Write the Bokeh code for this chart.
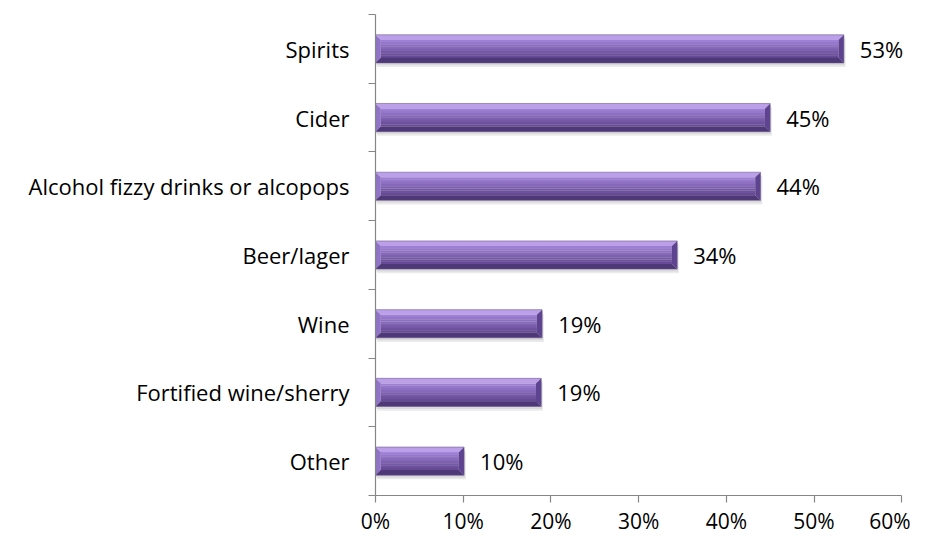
from bokeh.plotting import figure
from bokeh.models import ColumnDataSource, Range1d, FixedTicker, PrintfTickFormatter
from bokeh.core.properties import value
from bokeh.embed import file_html
from bokeh.resources import INLINE

categories = ["Spirits", "Cider", "Alcohol fizzy drinks or alcopops", "Beer/lager",
              "Wine", "Fortified wine/sherry", "Other"]
values = [53.4, 45.0, 43.9, 34.4, 19.0, 18.9, 10.1]
x_ticks = [0, 10, 20, 30, 40, 50, 60]

FONT = "Open Sans"
FS = "22px"
n = len(categories)
ys = [n - i - 0.5 for i in range(n)]
labels = [f"{round(v)}%" for v in values]

h = 0.41
bx = 0.6
by = 0.075

def facets(v, y):
    x0, x1 = 0.0, v
    yt, yb = y + h / 2, y - h / 2
    top = ([x0, x1, x1 - bx, x0 + bx], [yt, yt, yt - by, yt - by])
    left = ([x0, x0 + bx, x0 + bx, x0], [yt, yt - by, yb + by, yb])
    right = ([x1, x1, x1 - bx, x1 - bx], [yt, yb, yb + by, yt - by])
    bottom = ([x0, x0 + bx, x1 - bx, x1], [yb, yb + by, yb + by, yb])
    return top, left, right, bottom

p = figure(frame_width=535, frame_height=481, output_backend="svg", toolbar_location=None,
           x_range=Range1d(0, 61), y_range=Range1d(0, n),
           min_border_left=375, min_border_top=14, min_border_right=0, min_border_bottom=10)
p.outline_line_color = None
p.grid.grid_line_color = None
p.background_fill_color = "white"
p.border_fill_color = "white"

src = ColumnDataSource(dict(y=ys, v=values, lab=labels))

# soft shadow
p.hbar(y=[yy - 0.06 for yy in ys], right=[v + 0.2 for v in values], left=0.2, height=h,
       fill_color="#e2e2e2", fill_alpha=0.7, line_color=None)
p.hbar(y=[yy - 0.035 for yy in ys], right=[v + 0.1 for v in values], left=0.1, height=h,
       fill_color="#cfcfcf", fill_alpha=0.6, line_color=None)

# face with vertical gradient (styling strips)
grad = ["#9d7fd4", "#9677cb", "#8e70c2", "#8669b9", "#7d61af", "#7559a6", "#6d519c", "#664a95"]
face_top = h / 2 - by
face_h = h - 2 * by
k = len(grad)
for j, c in enumerate(grad):
    yc = [yy + face_top - face_h * (j + 0.5) / k for yy in ys]
    p.hbar(y=yc, left=bx, right=[v - bx for v in values], height=face_h / k * 1.08,
           fill_color=c, line_color=None)

tops, lefts, rights, bottoms = [], [], [], []
for v, y in zip(values, ys):
    t, l, r, b = facets(v, y)
    tops.append(t); lefts.append(l); rights.append(r); bottoms.append(b)

p.patches([t[0] for t in tops], [t[1] for t in tops], fill_color="#bb9fe8", line_color=None)
p.patches([t[0] for t in lefts], [t[1] for t in lefts], fill_color="#9072c6", line_color=None)
p.patches([t[0] for t in rights], [t[1] for t in rights], fill_color="#5e4490", line_color=None)
p.patches([t[0] for t in bottoms], [t[1] for t in bottoms], fill_color="#4e3878", line_color=None)
p.hbar(y="y", right="v", left=0, height=h, source=src, fill_color=None,
       line_color="#6a5690", line_width=0.8, line_alpha=0.7)

p.text(x="v", y="y", text="lab", source=src, x_offset=16, text_baseline="middle",
       text_align="left", text_font=value(FONT), text_font_size=FS, text_color="#000000")

# x axis
xa = p.xaxis[0]
xa.ticker = FixedTicker(ticks=x_ticks)
xa.formatter = PrintfTickFormatter(format="%d%%")
xa.bounds = (0, 60)
xa.axis_line_color = "#868686"
xa.axis_line_width = 1.2
xa.major_tick_line_color = "#868686"
xa.major_tick_line_width = 1.2
xa.major_tick_out = 7
xa.major_tick_in = 0
xa.minor_tick_line_color = None
xa.major_label_standoff = 4
xa.major_label_text_font = FONT
xa.major_label_text_font_size = "21px"
xa.major_label_text_color = "#000000"

# y axis
ya = p.yaxis[0]
ya.ticker = FixedTicker(ticks=ys, minor_ticks=list(range(n + 1)))
ya.major_label_overrides = {yy: c for yy, c in zip(ys, categories)}
ya.axis_line_color = "#868686"
ya.axis_line_width = 1.2
ya.major_tick_line_color = None
ya.major_tick_out = 0
ya.major_tick_in = 0
ya.minor_tick_line_color = "#868686"
ya.minor_tick_line_width = 1.2
ya.minor_tick_out = 7
ya.minor_tick_in = 0
ya.major_label_standoff = 19
ya.major_label_text_font = FONT
ya.major_label_text_font_size = FS
ya.major_label_text_color = "#000000"

open("out.html", "w").write(file_html(p, INLINE))
